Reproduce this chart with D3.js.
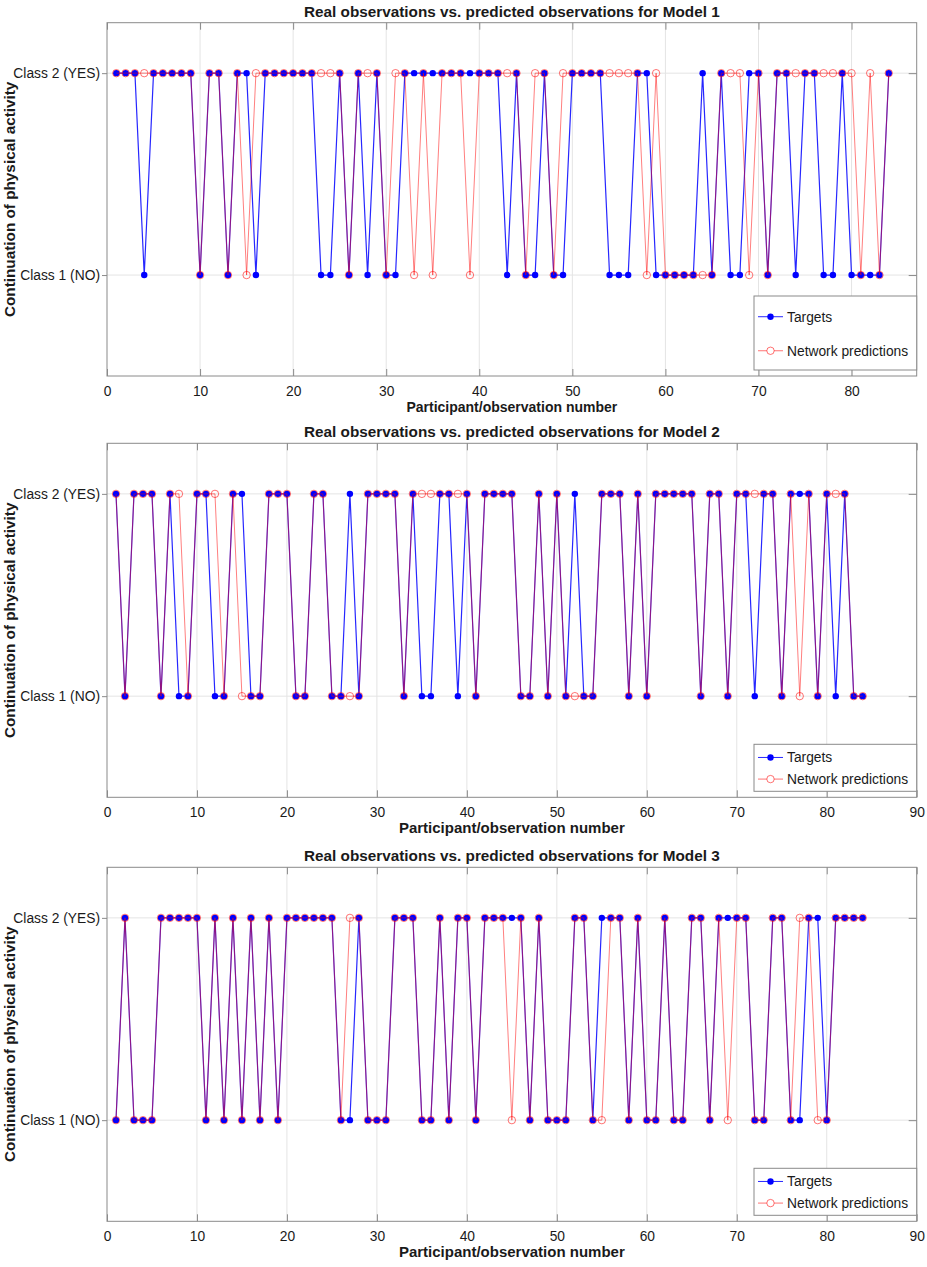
<!DOCTYPE html>
<html>
<head>
<meta charset="utf-8">
<script src="https://cdn.jsdelivr.net/npm/d3@7"></script>
<style>
  body { margin: 0; background: #fff; }
  text { font-family: "Liberation Sans", Arial, Helvetica, sans-serif; fill: #1a1a1a; }
</style>
</head>
<body>
<div id="chart"></div>
<script>
// 1 = Class 1 (NO), 2 = Class 2 (YES), one value per participant 1..84
const targets1 = [2,2,2,1,2,2,2,2,2,1, 2,2,1,2,2,1,2,2,2,2, 2,2,1,1,2,1,2,1,2,1,
                  1,2,2,2,2,2,2,2,2,2, 2,2,1,2,1,1,2,1,1,2, 2,2,2,1,1,1,2,2,1,1,
                  1,1,1,2,1,2,1,1,2,2, 1,2,2,1,2,2,1,1,2,1, 1,1,1,2];
const predictions1 = [2,2,2,2,2,2,2,2,2,1, 2,2,1,2,1,2,2,2,2,2, 2,2,2,2,2,1,2,2,2,1,
                      2,2,1,2,1,2,2,2,1,2, 2,2,2,2,1,2,2,1,2,2, 2,2,2,2,2,2,2,1,2,1,
                      1,1,1,1,1,2,2,2,1,2, 1,2,2,2,2,2,2,2,2,2, 1,2,1,2];

const targets2 = [2,1,2,2,2,1,2,1,1,2, 2,1,1,2,2,1,1,2,2,2, 1,1,2,2,1,1,2,1,2,2,
                  2,2,1,2,1,1,2,2,1,2, 1,2,2,2,2,1,1,2,1,2, 1,2,1,1,2,2,2,1,2,1,
                  2,2,2,2,2,1,2,2,1,2, 2,1,2,2,1,2,2,2,1,2, 1,2,1,1];
const predictions2 = [2,1,2,2,2,1,2,2,1,2, 2,2,1,2,1,1,1,2,2,2, 1,1,2,2,1,1,1,1,2,2,
                      2,2,1,2,2,2,2,2,2,2, 1,2,2,2,2,1,1,2,1,2, 1,1,1,1,2,2,2,1,2,1,
                      2,2,2,2,2,1,2,2,1,2, 2,2,2,2,1,2,1,2,1,2, 2,2,1,1];

const targets3 = [1,2,1,1,1,2,2,2,2,2, 1,2,1,2,1,2,1,2,1,2, 2,2,2,2,2,1,1,2,1,1,
                  1,2,2,2,1,1,2,1,2,2, 1,2,2,2,2,2,1,2,1,1, 1,2,2,1,2,2,2,1,2,1,
                  1,2,1,1,2,2,1,2,2,2, 2,1,1,2,2,1,1,2,2,1, 2,2,2,2];
const predictions3 = [1,2,1,1,1,2,2,2,2,2, 1,2,1,2,1,2,1,2,1,2, 2,2,2,2,2,1,2,2,1,1,
                      1,2,2,2,1,1,2,1,2,2, 1,2,2,2,1,2,1,2,1,1, 1,2,2,1,1,2,2,1,2,1,
                      1,2,1,1,2,2,1,2,1,2, 2,1,1,2,2,1,2,2,1,1, 2,2,2,2];

const CLASS_TICKS = [1, 2];
const CLASS_LABELS = ['Class 1 (NO)', 'Class 2 (YES)'];
const X_TICKS_MODEL1 = [0, 10, 20, 30, 40, 50, 60, 70, 80];
const X_TICKS = [0, 10, 20, 30, 40, 50, 60, 70, 80, 90];
const TITLES = [
  'Real observations vs. predicted observations for Model 1',
  'Real observations vs. predicted observations for Model 2',
  'Real observations vs. predicted observations for Model 3'
];
const SERIES_NAMES = ['Targets', 'Network predictions'];
const X_LABEL = 'Participant/observation number';
const Y_LABEL = 'Continuation of physical activity';

const WIDTH = 927;
const HEIGHT = 1267;
const LEFT = 107;
const RIGHT = 916.7;
const AXIS_COLOR = '#8a8a8a';
const GRID_COLOR = '#e4e4e4';
const BLUE = '#0000ff';
const RED = '#ff0000';

const panels = [
  { top: 22.7, bottom: 376, xMax: 87, ticks: X_TICKS_MODEL1, targets: targets1, predictions: predictions1,
    title: TITLES[0], xLabelSize: 14, legendHeight: 74 },
  { top: 443.3, bottom: 797.3, xMax: 90, ticks: X_TICKS, targets: targets2, predictions: predictions2,
    title: TITLES[1], xLabelSize: 15, legendHeight: 47 },
  { top: 867.3, bottom: 1221.3, xMax: 90, ticks: X_TICKS, targets: targets3, predictions: predictions3,
    title: TITLES[2], xLabelSize: 15, legendHeight: 47 }
];

const svg = d3.select('#chart')
              .append('svg')
              .attr('width', WIDTH)
              .attr('height', HEIGHT);

panels.forEach(p => drawPanel(p));

function drawPanel(p) {

  const x = d3.scaleLinear()
              .domain([0, p.xMax])
              .range([LEFT, RIGHT]);
  const y = d3.scaleLinear()
              .domain([0.5, 2.25])
              .range([p.bottom, p.top]);

  const g = svg.append('g');

  // grid
  g.append('g')
     .selectAll('line')
     .data(p.ticks.filter(t => t > 0))
     .enter()
     .append('line')
     .attr('x1', d => x(d)).attr('x2', d => x(d))
     .attr('y1', p.top).attr('y2', p.bottom)
     .attr('stroke', GRID_COLOR);
  g.append('g')
     .selectAll('line')
     .data(CLASS_TICKS)
     .enter()
     .append('line')
     .attr('x1', LEFT).attr('x2', RIGHT)
     .attr('y1', d => y(d)).attr('y2', d => y(d))
     .attr('stroke', GRID_COLOR);

  // axes
  const bottomAxis = g.append('g')
                        .attr('transform', `translate(0,${p.bottom})`)
                        .call(d3.axisBottom(x).tickValues(p.ticks).tickSizeInner(-7).tickSizeOuter(0).tickPadding(10));
  const topAxis = g.append('g')
                     .attr('transform', `translate(0,${p.top})`)
                     .call(d3.axisTop(x).tickValues(p.ticks).tickSizeInner(-7).tickSizeOuter(0).tickFormat(''));
  const leftAxis = g.append('g')
                      .attr('transform', `translate(${LEFT},0)`)
                      .call(d3.axisLeft(y).tickValues(CLASS_TICKS).tickSizeInner(5).tickSizeOuter(0).tickPadding(2)
                              .tickFormat(d => CLASS_LABELS[d - 1]));
  const rightAxis = g.append('g')
                       .attr('transform', `translate(${RIGHT},0)`)
                       .call(d3.axisRight(y).tickValues(CLASS_TICKS).tickSizeInner(-8).tickSizeOuter(0).tickFormat(''));

  [bottomAxis, topAxis, leftAxis, rightAxis].forEach(a => {
    a.select('.domain').remove();
    a.selectAll('line').attr('stroke', AXIS_COLOR);
    a.selectAll('text')
       .style('font-family', '"Liberation Sans", Arial, sans-serif')
       .style('font-size', '13.8px')
       .attr('fill', '#1a1a1a');
  });

  g.append('rect')
     .attr('x', LEFT).attr('y', p.top)
     .attr('width', RIGHT - LEFT).attr('height', p.bottom - p.top)
     .attr('fill', 'none')
     .attr('stroke', AXIS_COLOR);

  // series
  const line = d3.line()
                 .x((d, i) => x(i + 1))
                 .y(d => y(d));

  g.append('path')
     .datum(p.targets)
     .attr('d', line)
     .attr('fill', 'none')
     .attr('stroke', BLUE)
     .attr('stroke-width', 1.2)
     .attr('stroke-opacity', 0.85);
  g.append('g')
     .selectAll('circle')
     .data(p.targets)
     .enter()
     .append('circle')
     .attr('cx', (d, i) => x(i + 1))
     .attr('cy', d => y(d))
     .attr('r', 3.2)
     .attr('fill', BLUE);

  g.append('path')
     .datum(p.predictions)
     .attr('d', line)
     .attr('fill', 'none')
     .attr('stroke', RED)
     .attr('stroke-width', 1)
     .attr('stroke-opacity', 0.5);
  g.append('g')
     .selectAll('circle')
     .data(p.predictions)
     .enter()
     .append('circle')
     .attr('cx', (d, i) => x(i + 1))
     .attr('cy', d => y(d))
     .attr('r', 3.7)
     .attr('fill', 'none')
     .attr('stroke', RED)
     .attr('stroke-opacity', 0.55)
     .attr('stroke-width', 1);

  // texts
  g.append('text')
     .attr('x', (LEFT + RIGHT) / 2)
     .attr('y', p.top - 6)
     .attr('text-anchor', 'middle')
     .style('font-size', '15.3px')
     .style('font-weight', 'bold')
     .text(p.title);
  g.append('text')
     .attr('x', (LEFT + RIGHT) / 2)
     .attr('y', p.bottom + 36)
     .attr('text-anchor', 'middle')
     .style('font-size', p.xLabelSize + 'px')
     .style('font-weight', 'bold')
     .text(X_LABEL);
  g.append('text')
     .attr('transform', `translate(15,${(p.top + p.bottom) / 2}) rotate(-90)`)
     .attr('text-anchor', 'middle')
     .style('font-size', '15.3px')
     .style('font-weight', 'bold')
     .text(Y_LABEL);

  // legend
  const lx = 754;
  const ly = p.bottom - 6 - p.legendHeight;
  const legend = g.append('g');
  legend.append('rect')
          .attr('x', lx).attr('y', ly)
          .attr('width', RIGHT - lx).attr('height', p.legendHeight)
          .attr('fill', '#fff')
          .attr('stroke', AXIS_COLOR);
  const rowY = [ly + p.legendHeight * 0.28, ly + p.legendHeight * 0.74];
  SERIES_NAMES.forEach((name, i) => {
    const color = i === 0 ? BLUE : RED;
    const op = i === 0 ? 0.85 : 0.55;
    legend.append('line')
            .attr('x1', lx + 4).attr('x2', lx + 29)
            .attr('y1', rowY[i]).attr('y2', rowY[i])
            .attr('stroke', color)
            .attr('stroke-opacity', op);
    legend.append('circle')
            .attr('cx', lx + 16.5).attr('cy', rowY[i])
            .attr('r', i === 0 ? 3.2 : 3.7)
            .attr('fill', i === 0 ? BLUE : '#fff')
            .attr('stroke', i === 0 ? 'none' : RED)
            .attr('stroke-opacity', op);
    legend.append('text')
            .attr('x', lx + 33)
            .attr('y', rowY[i])
            .attr('dy', '0.35em')
            .style('font-size', '13.8px')
            .text(name);
  });
}
</script>
</body>
</html>
